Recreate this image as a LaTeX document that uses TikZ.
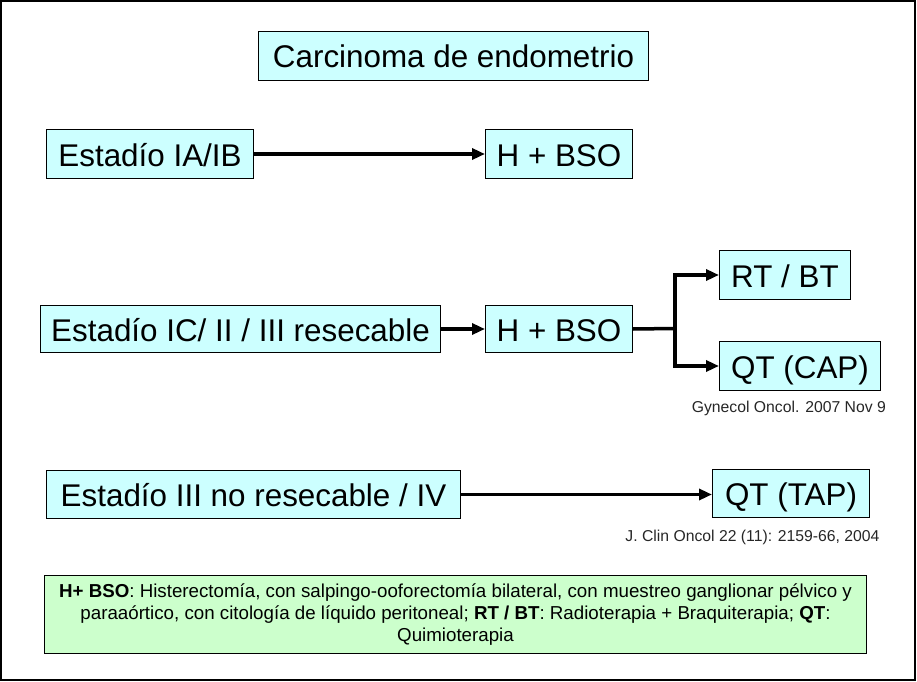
\documentclass[tikz,border=0pt]{standalone}
\usepackage{fontspec}
\setmainfont{Liberation Sans}
\usetikzlibrary{arrows.meta}
\definecolor{cyanbox}{HTML}{CCFFFF}
\definecolor{greenbox}{HTML}{CCFFCC}
\begin{document}
\begin{tikzpicture}[x=1bp,y=-1bp,
  box/.style={draw=black, line width=1bp, fill=cyanbox, inner sep=0pt, anchor=north west,
    font=\fontsize{31.5}{36}\selectfont, text height=24bp, text depth=0pt},
  conn/.style={line width=3.5bp},
  arr/.style={conn, -{Triangle[length=13bp,width=11bp]}},
  cite/.style={font=\fontsize{15.8}{18}\selectfont, text=black!85, inner sep=0pt}]
\useasboundingbox (0,0) rectangle (917,682);
\draw[line width=1.5bp] (1,1) rectangle (915,680);
\node[box, minimum width=390bp, minimum height=49bp] (title) at (258,31) {Carcinoma de endometrio};
\node[box, minimum width=207bp, minimum height=49bp] (ia) at (46,129) {Estadío IA/IB};
\node[box, minimum width=147bp, minimum height=49bp] (hb1) at (485,129) {H + BSO};
\node[box, minimum width=400bp, minimum height=47bp] (ic) at (40,305) {Estadío IC/ II / III resecable};
\node[box, minimum width=147bp, minimum height=47bp] (hb2) at (485,305) {H + BSO};
\node[box, minimum width=131bp, minimum height=49bp] (rt) at (719,250) {RT / BT};
\node[box, minimum width=161bp, minimum height=49bp] (qtc) at (719,341) {QT (CAP)};
\node[box, minimum width=414bp, minimum height=48bp] (iii) at (46,470) {Estadío III no resecable / IV};
\node[box, minimum width=157bp, minimum height=48bp] (qtt) at (712,469) {QT (TAP)};
\node[cite, anchor=east] (c1) at (886,408) {Gynecol Oncol. 2007 Nov 9};
\node[cite] (c2) at (752.5,537) {J. Clin Oncol 22 (11): 2159-66, 2004};
\node[draw=black, line width=1bp, fill=greenbox, anchor=north west, minimum width=822bp, minimum height=78bp,
  inner sep=0pt, align=center, font=\fontsize{18.8}{22}\selectfont] (legend) at (44,575)
  {\textbf{H+ BSO}: Histerectomía, con salpingo-ooforectomía bilateral, con muestreo ganglionar pélvico y\\
   paraaórtico, con citología de líquido peritoneal; \textbf{RT / BT}: Radioterapia + Braquiterapia; \textbf{QT}:\\
   Quimioterapia};
\draw[arr] (ia.east) -- (hb1.west);
\draw[arr] (ic.east) -- (hb2.west);
\coordinate (br) at (675,328.5);
\draw[conn] (hb2.east) -- (br);
\draw[arr] (br) |- (rt.west);
\draw[arr] (br) |- (qtc.west);
\draw[arr] (iii.east) -- (iii.east -| qtt.west);
\end{tikzpicture}
\end{document}
